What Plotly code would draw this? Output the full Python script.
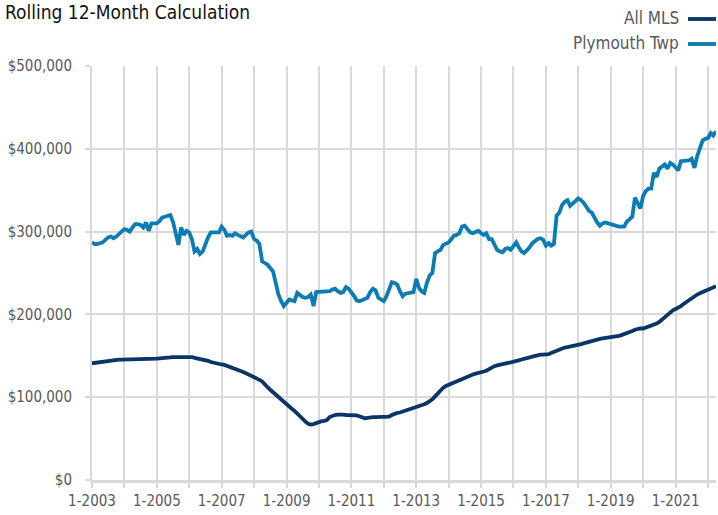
import plotly.graph_objects as go
import pandas as pd

# Monthly dates, Jan 2003 .. Apr 2022
months = pd.date_range("2003-01-01", "2022-04-01", freq="MS").strftime("%Y-%m-%d").tolist()

# All MLS (rolling 12-month median, $ thousands)
all_mls_k = [
    141, 141.5, 142, 142.5, 143.5, 144, 144.5, 145, 145.5, 145.5, 145.5, 145.5,
    145.5, 145.5, 145.5, 145.5, 145.5, 145.5, 146, 146, 146, 146, 146, 146.5,
    146.5, 147, 147, 147.5, 147.5, 148, 148.5, 148.5, 149, 149, 149, 149,
    149, 148.5, 147.5, 147, 146.5, 146, 145.5, 144, 142.5, 141.5, 141, 140,
    139.5, 139, 138, 136.5, 135.5, 134.5, 133, 131.5, 130.5, 129, 127.5, 126.5,
    125, 123, 121, 119, 115, 112, 109, 106, 103, 100, 96.5, 93.5,
    91, 88.5, 86, 83.5, 80, 76, 73, 70.5, 68, 67, 67.5, 69,
    70.5, 71, 71.5, 72.5, 76, 77.5, 78.5, 79, 79.5, 79, 78.5, 78.5,
    78.5, 78.5, 78, 77, 75.5, 74.5, 75, 76, 76, 76, 76, 75.5,
    76, 76, 76.5, 78.5, 80, 81, 81.5, 82.5, 83.5, 85, 86, 87,
    88, 89, 90, 91.5, 93, 95, 97.5, 101, 105, 109, 111.5, 113.5,
    115, 116.5, 118, 119.5, 121, 122.5, 124, 125, 126.5, 127.5, 128.5, 129,
    130, 131, 132, 134, 136.5, 137.5, 138.5, 139.5, 140.5, 141, 141.5, 142,
    142.5, 143.5, 144.5, 145.5, 146, 147, 148, 149, 150, 151, 151.5, 151.5,
    151.5, 152, 153.5, 155, 156, 157.5, 159, 160, 160.5, 161, 161.5, 162.5,
    163, 164, 165, 166, 167, 168, 169.5, 170.5, 170.5, 171, 171.5, 171.5,
    171.5, 172, 173, 174, 175, 176, 177.5, 178.5, 180, 181.5, 182.5, 183,
    183, 184, 186, 186.5, 187, 189, 191, 194, 197, 200, 203, 205,
    206.5, 208, 210, 212.5, 215, 217.5, 219.5, 221.5, 224, 225.5, 227, 228.5,
    230, 231, 232.5, 234,
]

# Plymouth Twp ($ thousands)
plymouth_k = [
    287, 285, 285, 286, 287, 290, 293, 294, 292, 294, 297, 300,
    303, 302, 300, 305, 309, 309, 308, 305, 311, 301, 310, 310,
    310, 313, 317, 318, 319, 320, 312, 299, 284, 305, 296, 301,
    299, 290, 276, 279, 273, 276, 285, 293, 299, 299, 299, 299,
    306, 302, 295, 296, 295, 298, 296, 295, 293, 296, 299, 300,
    291, 289, 285, 264, 262, 260, 256, 252, 238, 224, 216, 210,
    214, 218, 217, 216, 226, 223, 221, 220, 221, 224, 210, 227,
    227, 227, 227, 227, 228, 230, 231, 228, 226, 227, 233, 231,
    227, 222, 217, 216, 217, 218, 220, 227, 231, 229, 220, 218,
    216, 222, 232, 239, 238, 236, 228, 222, 225, 226, 226, 227,
    243, 232, 228, 226, 238, 247, 250, 274, 276, 278, 284, 285,
    287, 291, 295, 296, 298, 306, 307, 303, 299, 298, 300, 301,
    298, 296, 298, 291, 291, 284, 278, 276, 275, 279, 280, 278,
    282, 287, 281, 276, 274, 277, 281, 286, 289, 291, 292, 290,
    283, 286, 283, 285, 319, 323, 332, 336, 338, 331, 334, 337,
    340, 338, 335, 330, 325, 323, 316, 311, 307, 310, 311, 310,
    308, 307, 306, 306, 306, 306, 312, 315, 318, 341, 333, 328,
    343, 349, 352, 352, 371, 366, 376, 378, 381, 376, 383, 381,
    378, 374, 385, 385, 386, 386, 388, 377, 391, 400, 410, 412,
    413, 419, 416, 421,
]

series_names = ["All MLS", "Plymouth Twp"]
series_colors = ["#0b3468", "#0a7bb3"]

y_ticks = [0, 100000, 200000, 300000, 400000, 500000]
x_tick_years = list(range(2003, 2023))
x_tick_vals = [f"{y}-01-01" for y in x_tick_years]
x_tick_text = [f"1-{y}" if (y - 2003) % 2 == 0 else "" for y in x_tick_years]

FONT = "Liberation Sans Narrow, DejaVu Sans Condensed, Arial Narrow, sans-serif"

fig = go.Figure()
for name, vals, col in zip(series_names, [all_mls_k, plymouth_k], series_colors):
    fig.add_trace(go.Scatter(
        x=months, y=[v * 1000 for v in vals], mode="lines", name=name,
        line=dict(color=col, width=3.8), showlegend=False, hoverinfo="skip",
    ))

W, H = 718, 515
L, R, T, B = 92, 2, 66, 35
pw, ph = W - L - R, H - T - B

def px_x(p):
    return (p - L) / pw

def px_y(p):
    return (H - B - p) / ph

# manual legend: text right-aligned, line sample on right
legend_rows = [18, 43]
for name, col, py in zip(series_names, series_colors, legend_rows):
    fig.add_annotation(
        x=px_x(681), y=px_y(py), xref="paper", yref="paper",
        text=name, showarrow=False, xanchor="right", yanchor="middle",
        font=dict(family=FONT, size=17, color="#595959"),
    )
    fig.add_shape(
        type="line", xref="paper", yref="paper",
        x0=px_x(688), x1=px_x(716), y0=px_y(py + 1), y1=px_y(py + 1),
        line=dict(color=col, width=3.8),
    )

fig.update_layout(
    width=W, height=H,
    margin=dict(l=L, r=R, t=T, b=B, autoexpand=False),
    paper_bgcolor="white", plot_bgcolor="white",
    title=dict(
        text="Rolling 12-Month Calculation",
        x=5 / W, xref="container", xanchor="left",
        y=1 - 12 / H, yref="container", yanchor="middle",
        font=dict(family=FONT, size=19, color="#111111"),
    ),
    font=dict(family=FONT, color="#595959", size=15),
)
fig.update_xaxes(
    type="date",
    range=["2003-01-01", "2022-04-01"],
    tickvals=x_tick_vals, ticktext=x_tick_text,
    showgrid=True, gridcolor="#d9d9d9", gridwidth=2,
    ticks="outside", ticklen=5, tickcolor="#d9d9d9", tickwidth=2,
    showline=True, linecolor="#d9d9d9", linewidth=3,
    tickfont=dict(family=FONT, size=15, color="#595959"),
    zeroline=False, automargin=False,
)
fig.update_yaxes(
    range=[0, 500000],
    tickvals=y_ticks, tickformat="$,.0f",
    showgrid=True, gridcolor="#d9d9d9", gridwidth=2,
    ticks="outside", ticklen=5, tickcolor="#d9d9d9", tickwidth=2,
    showline=True, linecolor="#d9d9d9", linewidth=2,
    tickfont=dict(family=FONT, size=15, color="#595959"),
    ticklabelstandoff=10,
    zeroline=False, automargin=False,
)

fig.write_html("out.html", config={"displayModeBar": False})

# remove the default browser body margin so the figure sits at the page origin
with open("out.html", "r", encoding="utf-8") as f:
    html = f.read()
html = html.replace("<head>", "<head><style>html,body{margin:0;padding:0;overflow:hidden;}</style>", 1)
with open("out.html", "w", encoding="utf-8") as f:
    f.write(html)
